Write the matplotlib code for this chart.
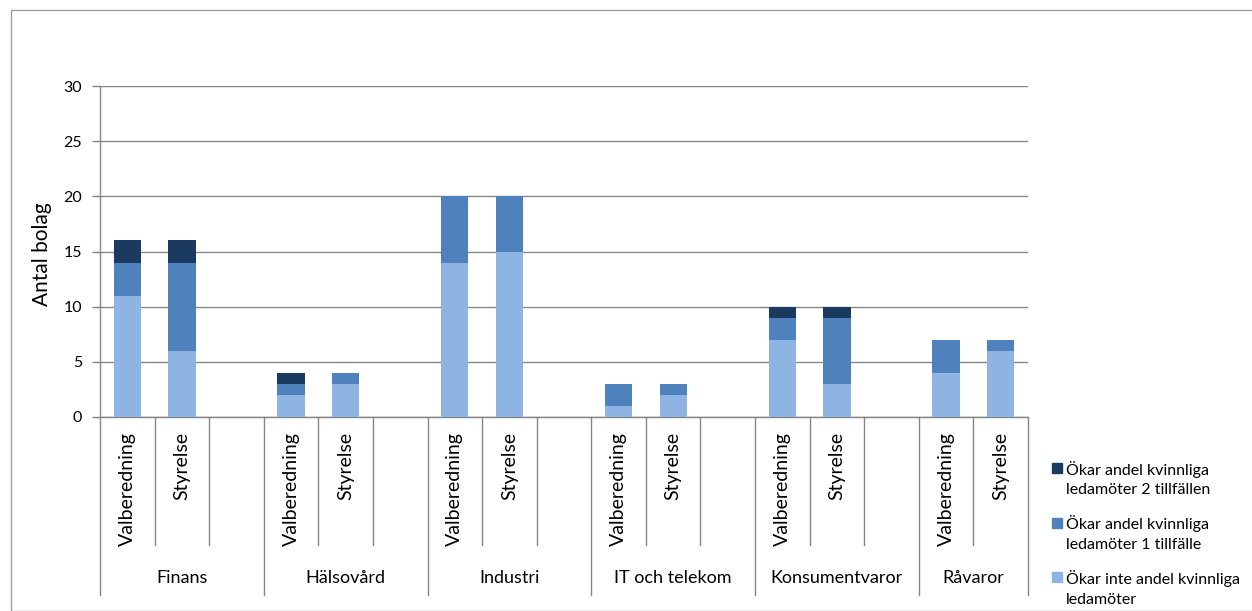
import numpy as np
import matplotlib
matplotlib.use("Agg")
import matplotlib.pyplot as plt
import matplotlib.transforms as mtransforms
from matplotlib.patches import Rectangle

plt.rcParams["font.family"] = ["Lato", "DejaVu Sans"]

groups = ["Finans", "Hälsovård", "Industri", "IT och telekom", "Konsumentvaror", "Råvaror"]
bodies = ["Valberedning", "Styrelse"]

# values per bar: Valberedning, Styrelse for each group in order
okar_inte = [11, 6, 2, 3, 14, 15, 1, 2, 7, 3, 4, 6]
okar_1 = [3, 8, 1, 1, 6, 5, 2, 1, 2, 6, 3, 1]
okar_2 = [2, 2, 1, 0, 0, 0, 0, 0, 1, 1, 0, 0]

series_labels = [
    ["Ökar inte andel kvinnliga", "ledamöter"],
    ["Ökar andel kvinnliga", "ledamöter 1 tillfälle"],
    ["Ökar andel kvinnliga", "ledamöter 2 tillfällen"],
]
colors = ["#8EB4E3", "#4F81BD", "#1B3A5F"]

W, H = 1252, 611
fig = plt.figure(figsize=(W / 100, H / 100), dpi=100)

# outer chart border
fig.patches.append(Rectangle((11 / W, 0), 1.2, (H - 10) / H, transform=fig.transFigure,
                             fill=False, edgecolor="#A0A0A0", linewidth=1))

ax_left, ax_right, ax_top, ax_bot = 100, 1028, 86, 417
ax = fig.add_axes([ax_left / W, (H - ax_bot) / H, (ax_right - ax_left) / W, (ax_bot - ax_top) / H])

n_groups = len(groups)
n_slots = n_groups * 3 - 1
slot_pos = []
for g in range(n_groups):
    for b in range(len(bodies)):
        slot_pos.append(g * 3 + b + 0.5)
slot_pos = np.array(slot_pos)

bottom = np.zeros(len(slot_pos))
for vals, col in zip([okar_inte, okar_1, okar_2], colors):
    ax.bar(slot_pos, vals, width=0.5, bottom=bottom, color=col, zorder=3)
    bottom += np.array(vals)

ax.set_xlim(0, n_slots)
ax.set_ylim(0, 30)
ax.set_yticks(range(0, 31, 5))
ax.tick_params(axis="y", length=6, width=1, color="#868686", labelsize=11.5, pad=7)
ax.set_xticks([])
ax.grid(axis="y", color="#878787", linewidth=1, zorder=0)
for s in ["top", "right"]:
    ax.spines[s].set_visible(False)
for s in ["left", "bottom"]:
    ax.spines[s].set_color("#868686")
    ax.spines[s].set_linewidth(1)

fig.text(42 / W, (H - 254) / H, "Antal bolag", rotation=90, ha="center", va="center", fontsize=15)

# multi-level category axis
trans = mtransforms.blended_transform_factory(ax.transData, ax.transAxes)
axh = ax_bot - ax_top
inner_end = -(545 - ax_bot) / axh
outer_end = -(595 - ax_bot) / axh
inner_lab = -(432 - ax_bot) / axh
outer_lab = -(578 - ax_bot) / axh
line_kw = dict(color="#868686", linewidth=1, transform=trans, clip_on=False)

for g in range(n_groups):
    start = g * 3
    end = min(start + 3, n_slots)
    ax.plot([start, start], [0, outer_end], **line_kw)
    for k in range(start + 1, end):
        ax.plot([k, k], [0, inner_end], **line_kw)
    for b, name in enumerate(bodies):
        ax.text(start + b + 0.5, inner_lab, name, rotation=90, ha="center", va="top",
                fontsize=14, transform=trans)
    ax.text((start + end) / 2, outer_lab, groups[g], ha="center", va="center",
            fontsize=13, transform=trans)
ax.plot([n_slots, n_slots], [0, outer_end], **line_kw)

# legend (top entry is darkest series)
leg_y = [468, 522.5, 577]
for i, idx in enumerate([2, 1, 0]):
    y = leg_y[i]
    fig.patches.append(Rectangle((1052 / W, (H - y - 5) / H), 10 / W, 10 / H,
                                 transform=fig.transFigure, color=colors[idx]))
    for j, line in enumerate(series_labels[idx]):
        fig.text(1066 / W, (H - y - 21 * j) / H, line, ha="left", va="center_baseline",
                 fontsize=11.5)

fig.savefig("out.png", dpi=100)
